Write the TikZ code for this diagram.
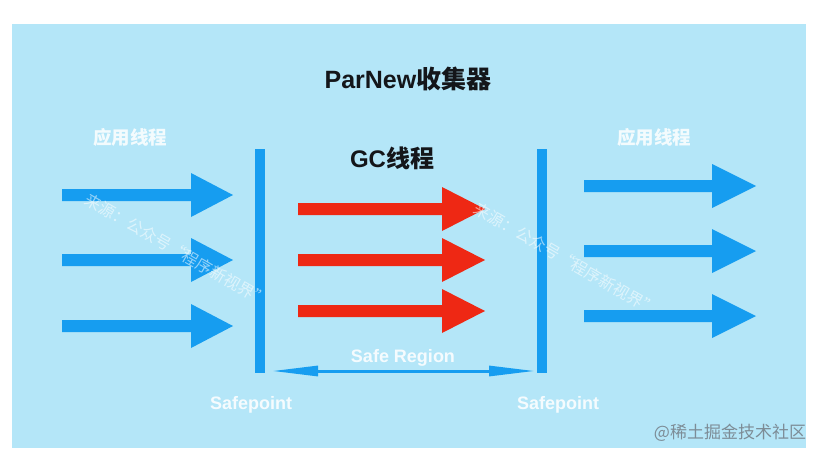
\documentclass[tikz,border=0pt]{standalone}
\usepackage{fontspec}
\setmainfont{Liberation Sans}
\newfontfamily\cjk{Noto Sans CJK SC}
\usetikzlibrary{arrows.meta}
\definecolor{bgblue}{RGB}{180,230,248}
\definecolor{arrblue}{RGB}{22,157,240}
\definecolor{arrred}{RGB}{238,40,20}
\definecolor{wmgray}{RGB}{125,140,150}
\definecolor{titleblack}{RGB}{20,22,26}
\newcommand\fatarrow[5]{%
  \fill[#1] (#2,#5-6) -- (#3,#5-6) -- (#3,#5-22) -- (#4,#5) -- (#3,#5+22) -- (#3,#5+6) -- (#2,#5+6) -- cycle;}
\tikzset{
  titletext/.style={text=titleblack, inner sep=0pt, font=\bfseries\fontsize{25}{25}\selectfont},
  whitelabel/.style={text=white, text opacity=0.88, inner sep=0pt, font=\bfseries\fontsize{18}{18}\selectfont},
  applabel/.style={text=white, text opacity=0.85, inner sep=0pt, font=\cjk\bfseries\fontsize{18.5}{18.5}\selectfont},
  diagmark/.style={text=white, text opacity=0.55, inner sep=0pt, rotate=-30, font=\cjk\fontsize{16}{16}\selectfont},
  bar/.style={fill=arrblue}
}
\begin{document}
\begin{tikzpicture}[x=1pt,y=-1pt]
\fill[white] (0,0) rectangle (823,458);
\useasboundingbox (0,0) rectangle (823,458);
\fill[bgblue] (12,24) rectangle (806,448);

% titles
\node[titletext] (title) at (408,79) {ParNew{\cjk\bfseries 收集器}};
\node[titletext, font=\bfseries\fontsize{24}{24}\selectfont] (gc) at (392,158) {GC{\cjk\bfseries 线程}};
\node[applabel] (appL) at (130,137) {应用线程};
\node[applabel] (appR) at (654,137) {应用线程};

% left application thread arrows
\fatarrow{arrblue}{62}{191}{233}{195}
\fatarrow{arrblue}{62}{191}{233}{260}
\fatarrow{arrblue}{62}{191}{233}{326}

% red GC thread arrows
\fatarrow{arrred}{298}{442}{485}{209}
\fatarrow{arrred}{298}{442}{485}{260}
\fatarrow{arrred}{298}{442}{485}{311}

% right application thread arrows
\fatarrow{arrblue}{584}{712}{756}{186}
\fatarrow{arrblue}{584}{712}{756}{251}
\fatarrow{arrblue}{584}{712}{756}{316}

% safepoint bars
\fill[bar] (255,149) rectangle (265,373);
\fill[bar] (537,149) rectangle (547,373);

% safe region
\coordinate (srL) at (272,371);
\coordinate (srR) at (535,371);
\draw[arrblue, line width=3pt, {Triangle[length=46pt,width=10pt]}-{Triangle[length=46pt,width=10pt]}] (srL) -- (srR);
\node[whitelabel] (sr) at (403,358) {Safe Region};
\node[whitelabel] (spL) at (251,405) {Safepoint};
\node[whitelabel] (spR) at (558,405) {Safepoint};

% watermarks
\node[diagmark] (wm1) at (177,250) {来源：公众号“程序新视界”};
\node[diagmark] (wm2) at (566,259) {来源：公众号“程序新视界”};
\node[text=wmgray, inner sep=0pt, font=\cjk\fontsize{17}{17}\selectfont] (wm3) at (730,433) {@稀土掘金技术社区};
\end{tikzpicture}
\end{document}
